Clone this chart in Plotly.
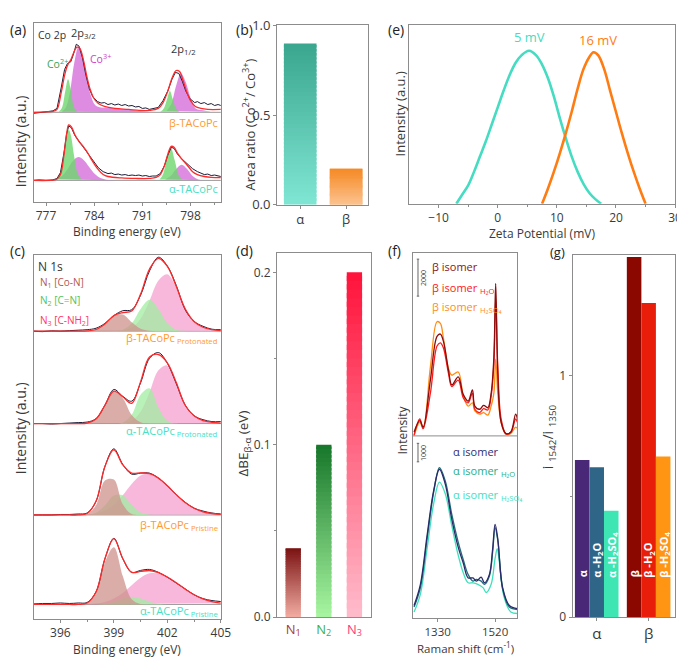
import plotly.graph_objects as go

W, H = 685, 657
FONT = "Open Sans"
TXT = "#3a3a3a"
AX = "#8c8c8c"

# ================= DATA =================
# ---- (a) Co 2p XPS (intensity, a.u.) ----
a_beta_raw_E = [775.2, 776.0, 777.0, 778.0, 778.6, 779.2, 779.7, 780.1, 780.6, 781.0, 781.4, 781.8, 782.3, 782.8,
                783.3, 783.8, 784.5, 785.0, 785.5, 786.0, 786.5, 787.0, 787.5, 788.0, 788.5, 789.0, 789.5, 790.0,
                790.5, 791.0, 791.5, 792.0, 792.5, 793.3, 794.0, 794.7,
                795.3, 795.8, 796.3, 796.8, 797.3, 797.9, 798.6, 799.0, 799.5, 800.0, 800.5, 801.0, 801.5, 802.0, 802.4]
a_beta_raw_I = [-1, 0, 0.5, 1.5, 4, 25, 44, 50, 52, 60, 70, 68, 56, 38, 24, 16, 11, 9.5, 10, 8, 9, 7.5, 8.5, 7, 8,
                6.5, 7, 5.5, 6, 4, 4.5, 3, 3.5,
                5, 12, 22, 34, 41, 40, 32, 22, 14, 10, 11, 9, 10, 8, 9, 7, 8, 7]
a_beta_fit_E = [775.2, 777.0, 778.0, 778.6, 779.2, 779.7, 780.1, 780.6, 781.0, 781.5, 781.9, 782.4, 782.9, 783.4,
                783.9, 784.6, 785.5, 787.0, 789.0, 790.5, 792.0, 793.3, 794.0, 794.7, 795.3, 795.9, 796.4, 796.9,
                797.4, 798.0, 798.7, 799.5, 800.5, 802.4]
a_beta_fit_I = [0, 0.5, 1, 3, 20, 38, 48, 54, 61, 67, 66, 55, 38, 24, 15, 9, 6, 4, 3, 2, 2, 4, 10, 22, 35, 43, 42,
                33, 22, 12, 6, 4, 3, 3]
a_beta_co2_32_E = [778.8, 779.3, 779.8, 780.2, 780.6, 781.1, 781.6]
a_beta_co2_32_I = [0.5, 4.5, 22, 34, 23, 4.5, 0.5]
a_beta_co3_32_E = [779.3, 779.9, 780.5, 781.1, 781.7, 782.3, 782.9, 783.5, 784.2, 785.0, 786.5, 788.0, 789.5, 791.0, 792.0]
a_beta_co3_32_I = [0.7, 5.3, 21.8, 50.6, 67, 57.7, 36.9, 17.6, 7, 5, 4.5, 3.5, 2.5, 1, 0]
a_beta_co2_12_E = [793.6, 794.1, 794.6, 795.0, 795.4, 795.9, 796.4]
a_beta_co2_12_I = [0.5, 4, 14, 22, 14, 4, 0.5]
a_beta_co3_12_E = [794.5, 795.2, 795.9, 796.6, 797.3, 798.0, 798.8, 799.8, 801.0]
a_beta_co3_12_I = [1.3, 8.6, 27.3, 40, 31.3, 15, 3.6, 2, 0.5]

a_alpha_raw_E = [775.2, 776.0, 777.0, 778.0, 778.6, 779.1, 779.6, 780.0, 780.3, 780.7, 781.2, 781.8, 782.4, 782.9,
                 783.4, 784.0, 784.6, 785.3, 786.0, 786.5, 787.0, 787.5, 788.0, 788.5, 789.0, 789.5, 790.0, 790.5,
                 791.0, 791.5, 792.0, 792.5, 793.0, 793.6, 794.2,
                 794.7, 795.2, 795.6, 796.1, 796.6, 797.1, 797.7, 798.3, 799.0, 799.5, 800.0, 800.5, 801.0, 801.5,
                 802.0, 802.4]
a_alpha_raw_I = [0, 0.5, 0, 0.5, 2, 8, 28, 48, 56, 54, 46, 40, 35, 30, 24, 18, 13, 9, 7, 7.5, 6, 6.5, 5.5, 6, 5,
                 5.5, 5, 5.5, 4.5, 5, 4, 4.5, 4.5, 7, 15,
                 26, 34, 33, 27, 23, 20, 16, 12, 9, 7.5, 6, 6.5, 5, 5.5, 4.5, 4]
a_alpha_fit_E = [775.2, 778.0, 778.6, 779.1, 779.6, 780.0, 780.3, 780.7, 781.2, 781.8, 782.4, 782.9, 783.4, 784.0,
                 784.6, 785.3, 786.0, 788.0, 790.0, 792.0, 793.0, 793.6, 794.2, 794.7, 795.2, 795.6, 796.1, 796.6,
                 797.1, 797.7, 798.3, 799.0, 800.0, 801.0, 802.4]
a_alpha_fit_I = [0, 0.3, 1.5, 6, 26, 48, 57, 55, 47, 40, 35, 30, 24, 17, 11, 6, 4, 2.5, 2, 2, 3, 6, 15, 27, 35, 34,
                 28, 23, 19, 14, 9, 6, 4, 3, 3]
a_alpha_co2_32_E = [778.5, 779.0, 779.5, 780.0, 780.3, 780.6, 781.1, 781.6, 782.1]
a_alpha_co2_32_I = [1.1, 7, 24.4, 46.8, 52, 46.8, 24.4, 7, 1.1]
a_alpha_co3_32_E = [778.5, 779.3, 780.1, 780.9, 781.7, 782.5, 783.3, 784.1, 785.0, 786.0, 787.5]
a_alpha_co3_32_I = [1.2, 4.4, 11.3, 19.9, 24, 20.8, 13.6, 6.7, 2.1, 0.4, 0]
a_alpha_co2_12_E = [793.5, 794.0, 794.5, 795.1, 795.7, 796.2, 796.7]
a_alpha_co2_12_I = [0.9, 6.3, 20.6, 34, 20.6, 6.3, 0.9]
a_alpha_co3_12_E = [794.3, 795.1, 795.9, 796.7, 797.5, 798.3, 799.1, 800.0]
a_alpha_co3_12_I = [0.9, 4.4, 11.6, 16, 11.6, 4.4, 0.9, 0.1]

# ---- (b) area ratio ----
b_cats = ["α", "β"]
b_vals = [0.90, 0.20]

# ---- (e) zeta potential ----
e_alpha_x = [-7, -6, -5, -4, -3, -2, -1, 0, 1, 2, 3, 4, 5.3, 6.5, 7.5, 8.5, 9.5, 10.5, 11.5, 12.5, 13.5, 14.5, 15.5, 16.5, 17.5]
e_alpha_y = [0, 0.06, 0.12, 0.21, 0.31, 0.41, 0.52, 0.63, 0.74, 0.84, 0.92, 0.97, 1.0, 0.97, 0.91, 0.82, 0.70,
             0.56, 0.43, 0.31, 0.21, 0.13, 0.07, 0.03, 0]
e_beta_x = [7.5, 8.5, 9.5, 10.5, 11.5, 12.5, 13.5, 14.5, 15.5, 16.2, 17.0, 18.0, 19.0, 20.0, 21.0, 22.0, 23.0, 24.0, 25.0]
e_beta_y = [0, 0.10, 0.21, 0.33, 0.46, 0.60, 0.75, 0.88, 0.96, 0.99, 0.97, 0.88, 0.74, 0.60, 0.46, 0.33, 0.21, 0.10, 0]
e_labels = ["5 mV", "16 mV"]

# ---- (c) N 1s XPS ----
c_E = [394.5, 395.0, 395.5, 396.0, 396.5, 397.0, 397.5, 398.0, 398.5, 399.0, 399.5, 400.0, 400.5, 401.0,
       401.5, 402.0, 402.5, 403.0, 403.5, 404.0, 404.5, 405.0]
c_bprot_N1 = [0, 0, 0, 0, 0, 0, 0.2, 1.7, 7.4, 15.9, 17, 9.1, 2.4, 0.3, 0, 0, 0, 0, 0, 0, 0, 0]
c_bprot_N2 = [0, 0, 0, 0, 0, 0, 0, 0, 0, 0.1, 1.4, 8.1, 22.9, 32.3, 22.9, 8.1, 1.4, 0.2, 0, 0, 0, 0]
c_bprot_N3 = [0, 0, 0, 0, 0, 0, 0, 0, 0, 0, 0.7, 3.5, 12.8, 31.3, 52, 58.5, 44.6, 22.9, 10, 4, 1.5, 0.5]
c_bprot_raw = [0, -0.5, 0.3, 0, 0.5, 1, 1.5, 3, 8, 16, 21, 22, 37, 62, 76, 67, 47, 22, 10, 5, 2, 1.5]
c_aprot_N1 = [0, 0, 0, 0, 0, 0, 0.5, 4.6, 18.8, 33.4, 26.1, 8.9, 1.3, 0.1, 0, 0, 0, 0, 0, 0, 0, 0]
c_aprot_N2 = [0, 0, 0, 0, 0, 0, 0, 0, 0, 0, 1.0, 9, 29.7, 36.3, 16.3, 2.7, 0.2, 0, 0, 0, 0, 0]
c_aprot_N3 = [0, 0, 0, 0, 0, 0, 0, 0, 0, 0, 0.5, 2.9, 12.1, 32.1, 54.7, 59.8, 41.9, 18.8, 8, 3, 1.2, 0.5]
c_aprot_raw = [0, 0, -0.5, 0, 0.5, 1, 1.5, 5, 19, 35, 28, 23, 42, 67, 73, 62, 41, 19, 8, 4, 2, 2]
c_bpris_N1 = [0, 0, 0, 0, 0, 0, 0.8, 10.1, 35.5, 36.4, 10.9, 0.9, 0, 0, 0, 0, 0, 0, 0, 0, 0, 0]
c_bpris_N2 = [0, 0, 0, 0, 0, 0, 0.3, 2.4, 9.9, 20, 20.3, 10.3, 2.6, 0.3, 0, 0, 0, 0, 0, 0, 0, 0]
c_bpris_N3 = [0, 0, 0, 0, 0, 0, 0.4, 1.6, 4.5, 10.6, 20.4, 31.9, 40.6, 42.2, 37.9, 30, 20.9, 12.8, 6.9, 3.3, 1.5, 0.6]
c_bpris_raw = [0, 0, 0, 0.5, 0.5, 1, 2, 14, 50, 68, 52, 42, 43, 43, 38, 30, 21, 13, 7, 4, 2, 1]
c_apris_N1 = [0, 0, 0, 0, 0, 0, 1.2, 11.9, 43.6, 58.8, 29.2, 5.3, 0.4, 0, 0, 0, 0, 0, 0, 0, 0, 0]
c_apris_N2 = [0, 0, 0, 0, 0, 0, 0, 0, 0.8, 2.9, 6.2, 8, 6.2, 2.9, 0.8, 0, 0, 0, 0, 0, 0, 0]
c_apris_N3 = [0, 0, 0, 0, 0, 0, 0.3, 0.9, 2.6, 6, 11.9, 19.7, 27.4, 32, 31.9, 28.2, 22.3, 15.8, 10, 5.7, 2.9, 1.3]
c_apris_raw = [0.5, 1, 1, 1.5, 1, 1.5, 2, 13, 47, 68, 47, 33, 35, 36, 33, 28, 22, 16, 10, 6, 4, 3]

# ---- (d) delta BE ----
d_cats = ["N1", "N2", "N3"]
d_vals = [0.04, 0.10, 0.20]

# ---- (f) Raman ----
f_beta_x = [1252, 1271, 1282, 1306, 1328, 1339, 1349, 1366, 1377, 1398, 1415, 1431, 1445, 1453, 1469, 1482,
            1496, 1507, 1516, 1522, 1529, 1540, 1556, 1572, 1588, 1594]
f_beta = [210, 826, 473, 3020, 5386, 5507, 5123, 3545, 2756, 3193, 2230, 1878, 2493, 1615, 1441, 1652,
          1525, 2314, 4245, 8242, 3366, 736, 126, 210, 1178, 915]
f_beta_h2o = [37, 915, 389, 2314, 4860, 5034, 4770, 3366, 2665, 3020, 2050, 1790, 2314, 1441, 1262, 1473,
              1404, 2140, 3890, 7400, 3720, 915, 126, 180, 915, 737]
f_beta_h2so4 = [0, 737, 420, 3720, 6175, 6086, 5297, 3630, 3282, 3456, 2140, 1615, 1790, 1352, 1178, 1262,
                1126, 1615, 2314, 4155, 2314, 737, 74, 126, 473, 389]
f_alpha_x = [1252, 1273, 1295, 1317, 1336, 1355, 1377, 1398, 1415, 1431, 1447, 1458, 1474, 1485, 1501, 1512,
             1520, 1529, 1545, 1567, 1594]
f_alpha = [684, 1825, 4455, 6906, 8048, 7259, 5328, 3840, 2961, 2172, 2172, 1999, 2209, 1909, 2351, 3750,
           5065, 4276, 1646, 684, 510]
f_alpha_h2o = [594, 1646, 4276, 6822, 8137, 7432, 5591, 4103, 3140, 2351, 1999, 2088, 1999, 1825, 2262, 3577,
               4892, 4192, 1562, 594, 458]
f_alpha_h2so4_x = [1252, 1273, 1295, 1317, 1336, 1355, 1377, 1398, 1415, 1431, 1447, 1463, 1480, 1491, 1507,
                   1520, 1527, 1534, 1550, 1572, 1594]
f_alpha_h2so4 = [331, 1299, 3750, 6207, 7348, 6733, 4981, 3403, 2435, 1909, 1909, 1825, 1646, 1383, 1825,
                 3224, 3750, 3051, 1120, 331, 247]

# ---- (g) intensity ratio ----
g_groups = ["α", "β"]
g_alpha_vals = [0.65, 0.62, 0.44]
g_beta_vals = [1.49, 1.30, 0.665]
g_alpha_labels = ["α", "α -H<sub>2</sub>O", "α -H<sub>2</sub>SO<sub>4</sub>"]
g_beta_labels = ["β", "β -H<sub>2</sub>O", "β -H<sub>2</sub>SO<sub>4</sub>"]

# ================= FIGURE =================
fig = go.Figure()


def dx(x0, x1):
    return [x0 / W, x1 / W]


def dy(y0, y1):
    return [1 - y1 / H, 1 - y0 / H]


def ann(text, x, y, size=12, color=TXT, xanchor="left", yanchor="middle", angle=0):
    fig.add_annotation(text=text, x=x / W, y=1 - y / H, xref="paper", yref="paper", showarrow=False,
                       xanchor=xanchor, yanchor=yanchor, textangle=angle,
                       font=dict(size=size, color=color, family=FONT))


def line(x, y, color, width, xa, ya, shape="spline"):
    fig.add_trace(go.Scatter(x=x, y=y, mode="lines", line=dict(color=color, width=width, shape=shape),
                             xaxis=xa, yaxis=ya, hoverinfo="skip"))


def area(x, y, color, xa, ya):
    fig.add_trace(go.Scatter(x=x, y=y, mode="lines", fill="toself", fillcolor=color,
                             line=dict(width=0, shape="spline"), xaxis=xa, yaxis=ya, hoverinfo="skip"))


def hline(yv, xa, ya, color="#9a9a9a", width=1):
    fig.add_shape(type="line", xref=xa + " domain", yref=ya, x0=0, x1=1, y0=yv, y1=yv,
                  line=dict(color=color, width=width), layer="below")


RAW = "#1c1c38"
FIT = "#ff2b2b"

# ---------- (a) ----------
GREEN_A = "rgba(110,215,110,0.80)"
MAG_A = "rgba(215,120,220,0.85)"
a_offsets = {"alpha": 22, "beta": 92}
for key, sets in [("beta", (a_beta_co3_32_E, a_beta_co3_32_I, a_beta_co2_32_E, a_beta_co2_32_I,
                            a_beta_co3_12_E, a_beta_co3_12_I, a_beta_co2_12_E, a_beta_co2_12_I,
                            a_beta_raw_E, a_beta_raw_I, a_beta_fit_E, a_beta_fit_I)),
                  ("alpha", (a_alpha_co3_32_E, a_alpha_co3_32_I, a_alpha_co2_32_E, a_alpha_co2_32_I,
                             a_alpha_co3_12_E, a_alpha_co3_12_I, a_alpha_co2_12_E, a_alpha_co2_12_I,
                             a_alpha_raw_E, a_alpha_raw_I, a_alpha_fit_E, a_alpha_fit_I))]:
    off = a_offsets[key]
    (c3E, c3I, c2E, c2I, c3bE, c3bI, c2bE, c2bI, rE, rI, fE, fI) = sets
    hline(off, "x", "y")
    area(c3E, [off + v for v in c3I], MAG_A, "x", "y")
    area(c3bE, [off + v for v in c3bI], MAG_A, "x", "y")
    area(c2E, [off + v for v in c2I], GREEN_A, "x", "y")
    area(c2bE, [off + v for v in c2bI], GREEN_A, "x", "y")
    line(rE, [off + v for v in rI], RAW, 1, "x", "y", "linear")
    line(fE, [off + v for v in fI], FIT, 1.3, "x", "y")

# ---------- gradient bars helper ----------


def lerp(c1, c2, t):
    return "rgb(%d,%d,%d)" % tuple(round(a + (b - a) * t) for a, b in zip(c1, c2))


def gradient_bar(cat, value, top, bottom, width, xa, ya, n=40):
    seg = value / n
    ys = [seg * 1.6 if i < n - 1 else seg for i in range(n)]
    bases = [seg * i for i in range(n)]
    cols = [lerp(bottom, top, (i + 0.5) / n) for i in range(n)]
    fig.add_trace(go.Bar(x=[cat] * n, y=ys, base=bases, width=width,
                         marker=dict(color=cols, line=dict(width=0)), xaxis=xa, yaxis=ya, hoverinfo="skip"))


# ---------- (b) ----------
b_grad = [((58, 166, 142), (128, 230, 212)), ((245, 138, 38), (252, 196, 145))]
for cat, v, (top, bot) in zip(b_cats, b_vals, b_grad):
    gradient_bar(cat, v, top, bot, 0.71, "x2", "y2")

# ---------- (e) ----------
line(e_alpha_x, e_alpha_y, "#46dcc2", 2.6, "x3", "y3")
line(e_beta_x, e_beta_y, "#ff7c12", 2.6, "x3", "y3")
fig.add_annotation(text=e_labels[0], x=e_alpha_x[12], y=1.09, xref="x3", yref="y3", showarrow=False,
                   font=dict(size=13, color="#46dcc2", family=FONT))
fig.add_annotation(text=e_labels[1], x=16.9, y=1.07, xref="x3", yref="y3", showarrow=False,
                   font=dict(size=13, color="#ff7c12", family=FONT))

# ---------- (c) ----------
N1C = "rgba(205,145,140,0.75)"
N2C = "rgba(160,238,160,0.75)"
N3C = "rgba(246,160,208,0.75)"
c_offsets = [296, 201, 107, 15]
c_sets = [(c_bprot_N1, c_bprot_N2, c_bprot_N3, c_bprot_raw),
          (c_aprot_N1, c_aprot_N2, c_aprot_N3, c_aprot_raw),
          (c_bpris_N1, c_bpris_N2, c_bpris_N3, c_bpris_raw),
          (c_apris_N1, c_apris_N2, c_apris_N3, c_apris_raw)]
for off, (n1, n2, n3, raw) in zip(c_offsets, c_sets):
    hline(off, "x4", "y4")
    area(c_E, [off + v for v in n3], N3C, "x4", "y4")
    area(c_E, [off + v for v in n2], N2C, "x4", "y4")
    area(c_E, [off + v for v in n1], N1C, "x4", "y4")
    fit = [a + b + c for a, b, c in zip(n1, n2, n3)]
    line(c_E, [off + v for v in raw], RAW, 1, "x4", "y4", "spline")
    line(c_E, [off + v for v in fit], FIT, 1.3, "x4", "y4")

# ---------- (d) ----------
d_grad = [((122, 18, 18), (242, 172, 162)), ((22, 118, 42), (168, 246, 160)), ((255, 18, 58), (255, 188, 204))]
for cat, v, (top, bot) in zip(d_cats, d_vals, d_grad):
    gradient_bar(cat, v, top, bot, 0.5, "x5", "y5")

# ---------- (f) ----------
f_beta_offset = 9852
hline(f_beta_offset, "x6", "y6", color="#8c8c8c")
line(f_beta_x, [f_beta_offset + v for v in f_beta_h2so4], "#ff8c14", 1.3, "x6", "y6")
line(f_beta_x, [f_beta_offset + v for v in f_beta_h2o], "#ff1a1a", 1.3, "x6", "y6")
line(f_beta_x, [f_beta_offset + v for v in f_beta], "#8b0c0c", 1.3, "x6", "y6")
line(f_alpha_h2so4_x, f_alpha_h2so4, "#3ee0bc", 1.3, "x6", "y6")
line(f_alpha_x, f_alpha_h2o, "#226c78", 1.3, "x6", "y6")
line(f_alpha_x, f_alpha, "#2a2a6a", 1.3, "x6", "y6")
for y0, y1 in [(17411, 19411), (8450, 9450)]:
    fig.add_shape(type="line", xref="x6", yref="y6", x0=1265, x1=1265, y0=y0, y1=y1,
                  line=dict(color="#666", width=1))
    for yy in (y0, y1):
        fig.add_shape(type="line", xref="x6", yref="y6", x0=1261, x1=1269, y0=yy, y1=yy,
                      line=dict(color="#666", width=1))
fig.add_annotation(text="2000", x=1283, y=18411, xref="x6", yref="y6", showarrow=False, textangle=-90,
                   font=dict(size=7, color="#444", family=FONT))
fig.add_annotation(text="1000", x=1283, y=8950, xref="x6", yref="y6", showarrow=False, textangle=-90,
                   font=dict(size=7, color="#444", family=FONT))

# ---------- (g) ----------
g_colors_a = ["#4a2878", "#2f6688", "#3ee6b4"]
g_colors_b = ["#8b0800", "#e81e0a", "#ff9512"]
g_step = 0.28
xs, vals, cols, labs = [], [], [], []
for gi, (gv, gc, gl) in enumerate([(g_alpha_vals, g_colors_a, g_alpha_labels),
                                    (g_beta_vals, g_colors_b, g_beta_labels)]):
    for j in range(3):
        xs.append(gi + (j - 1) * g_step)
        vals.append(gv[j])
        cols.append(gc[j])
        labs.append(gl[j])
fig.add_trace(go.Bar(x=xs, y=vals, width=g_step, marker=dict(color=cols, line=dict(width=0)),
                     xaxis="x7", yaxis="y7", hoverinfo="skip"))
for xv, lab in zip(xs, labs):
    fig.add_annotation(text="<b>" + lab + "</b>", x=xv, y=0.155, xref="x7", yref="y7", showarrow=False,
                       textangle=-90, xanchor="center", yanchor="bottom",
                       font=dict(size=11, color="white", family=FONT))

# ================= AXES =================
base = dict(showline=True, mirror=True, linecolor=AX, linewidth=1, showgrid=False, zeroline=False,
            ticks="outside", ticklen=3, tickwidth=1, tickcolor=AX, ticklabeloverflow="allow",
            tickfont=dict(size=12, color=TXT, family=FONT))
noy = dict(base, ticks="", showticklabels=False)
minor_x = dict(ticks="outside", ticklen=2, tickcolor=AX)

fig.update_layout(
    width=W, height=H, margin=dict(l=0, r=0, t=0, b=0),
    paper_bgcolor="white", plot_bgcolor="white", showlegend=False, barmode="overlay",
    font=dict(family=FONT, color=TXT),
    xaxis=dict(base, domain=dx(26, 216), range=[775.2, 802.4], tickvals=[777, 784, 791, 798], anchor="y",
               minor=dict(minor_x, tickvals=[780.5, 787.5, 794.5, 801.5])),
    yaxis=dict(noy, domain=dy(6, 190), range=[0, 184], anchor="x"),
    xaxis2=dict(base, domain=dx(273, 365), range=[-0.505, 1.47], type="category", anchor="y2",
                tickfont=dict(size=13, color=TXT, family=FONT)),
    yaxis2=dict(base, domain=dy(8, 193), range=[0, 1.004], tickvals=[0, 0.5, 1.0],
                ticktext=["0.0", "0.5", "1.0"], anchor="x2", tickfont=dict(size=13, color=TXT, family=FONT)),
    xaxis3=dict(base, domain=dx(407, 677), range=[-15, 30], dtick=10, anchor="y3",
                minor=dict(minor_x, tickvals=[-5, 5, 15, 25])),
    yaxis3=dict(noy, domain=dy(8, 192), range=[0, 1.17], anchor="x3"),
    xaxis4=dict(base, domain=dx(26, 216), range=[394.5, 405], tickvals=[396, 399, 402, 405], anchor="y4",
                tickfont=dict(size=12, color=TXT, family=FONT),
                minor=dict(minor_x, tickvals=[397.5, 400.5, 403.5])),
    yaxis4=dict(noy, domain=dy(245, 619), range=[0, 374], anchor="x4"),
    xaxis5=dict(base, domain=dx(273, 368), range=[-0.53, 2.53], type="category", anchor="y5",
                tickvals=d_cats,
                ticktext=['<span style="color:#a83a3a">N<sub>1</sub></span>',
                          '<span style="color:#3fae3f">N<sub>2</sub></span>',
                          '<span style="color:#ff3a78">N<sub>3</sub></span>'],
                ticks="", tickfont=dict(size=13, family=FONT)),
    yaxis5=dict(base, domain=dy(243, 617), range=[0, 0.211], tickvals=[0, 0.1, 0.2],
                ticktext=["0.0", "0.1", "0.2"], anchor="x5",
                minor=dict(ticks="outside", ticklen=2, tickvals=[0.05, 0.15], tickcolor=AX)),
    xaxis6=dict(base, domain=dx(411, 517), range=[1248.5, 1594], tickvals=[1330, 1520], anchor="y6",
                tickfont=dict(size=11.5, color=TXT, family=FONT)),
    yaxis6=dict(noy, domain=dy(243, 618), range=[0, 19725], anchor="x6"),
    xaxis7=dict(base, domain=dx(573, 677), range=[-0.464, 1.51], tickvals=[0, 1], ticktext=g_groups,
                anchor="y7", tickfont=dict(size=15, color=TXT, family=FONT)),
    yaxis7=dict(base, domain=dy(245, 617), range=[0, 1.497], tickvals=[0, 1], anchor="x7",
                minor=dict(ticks="outside", ticklen=2, tickvals=[0.5], tickcolor=AX)),
)

# ================= TEXT =================
for lab, x, y in [("(a)", 0, 13), ("(b)", 229, 13), ("(e)", 384, 13), ("(c)", 0, 240), ("(d)", 229, 240),
                  ("(f)", 384, 240)]:
    ann(lab, x, y, size=14, color="#222")
ann("(g)", 548, 242, size=13, color="#222")

ann("Binding energy (eV)", 121, 221, size=12, xanchor="center")
ann("Binding energy (eV)", 121, 650, size=12, xanchor="center")
ann("Zeta Potential (mV)", 542, 223, size=12, xanchor="center")
ann("Raman shift (cm<sup>-1</sup>)", 464, 648, size=11.5, xanchor="center")
ann("Intensity (a.u.)", 13, 128, size=14, xanchor="center", angle=-90)
ann("Intensity (a.u.)", 13, 423, size=14, xanchor="center", angle=-90)
ann("Area ratio (Co<sup>2+</sup>/ Co<sup>3+</sup>)", 245, 110, size=13, xanchor="center", angle=-90)
ann("ΔBE<sub>β-α</sub> (eV)", 240, 438, size=13.5, xanchor="center", angle=-90)
ann("Intensity (a.u.)", 398, 100, size=13, xanchor="center", angle=-90)
ann("Intensity", 400, 425, size=12, xanchor="center", angle=-90)
ann("i <sub>1542</sub>/i <sub>1350</sub>", 548, 432, size=14, xanchor="center", angle=-90)

ann("Co 2p", 28, 18, size=10.5, color="#333")
ann("2p<sub>3/2</sub>", 62, 16, size=11, color="#333")
ann("Co<sup>2+</sup>", 38, 48, size=10.5, color="#3aa352")
ann("Co<sup>3+</sup>", 81, 43, size=10.5, color="#d23cc8")
ann("2p<sub>1/2</sub>", 163, 33, size=11, color="#333")
ann("β-TACoPc", 215, 108, size=11, color="#ff9a32", xanchor="right")
ann("α-TACoPc", 215, 176, size=11, color="#48e0c4", xanchor="right")

ann("N 1s", 28, 257, size=12, color="#333")
ann("N<sub>1</sub> [Co-N]", 30, 273, size=10, color="#b25555")
ann("N<sub>2</sub> [C=N]", 30, 291, size=10, color="#4cc45a")
ann("N<sub>3</sub> [C-NH<sub>2</sub>]", 30, 312, size=10, color="#ff3366")
ann("β-TACoPc<sub> Protonated</sub>", 215, 330, size=11, color="#ff9a32", xanchor="right")
ann("α-TACoPc<sub> Protonated</sub>", 215, 426, size=11, color="#48e0c4", xanchor="right")
ann("β-TACoPc<sub> Pristine</sub>", 215, 522, size=11, color="#ff9a32", xanchor="right")
ann("α-TACoPc<sub> Pristine</sub>", 215, 611, size=11, color="#48e0c4", xanchor="right")

ann("β isomer", 428, 257, size=11, color="#8b1414")
ann("β isomer <sub>H₂O</sub>", 428, 279, size=11, color="#ff2020")
ann("β isomer <sub>H₂SO₄</sub>", 428, 298, size=11, color="#ff8c1a")
ann("α isomer", 450, 447, size=11, color="#2e2e78")
ann("α isomer <sub>H₂O</sub>", 450, 467, size=11, color="#22b08e")
ann("α isomer <sub>H₂SO₄</sub>", 450, 491, size=11, color="#44e0c2")

fig.write_html("out.html")
